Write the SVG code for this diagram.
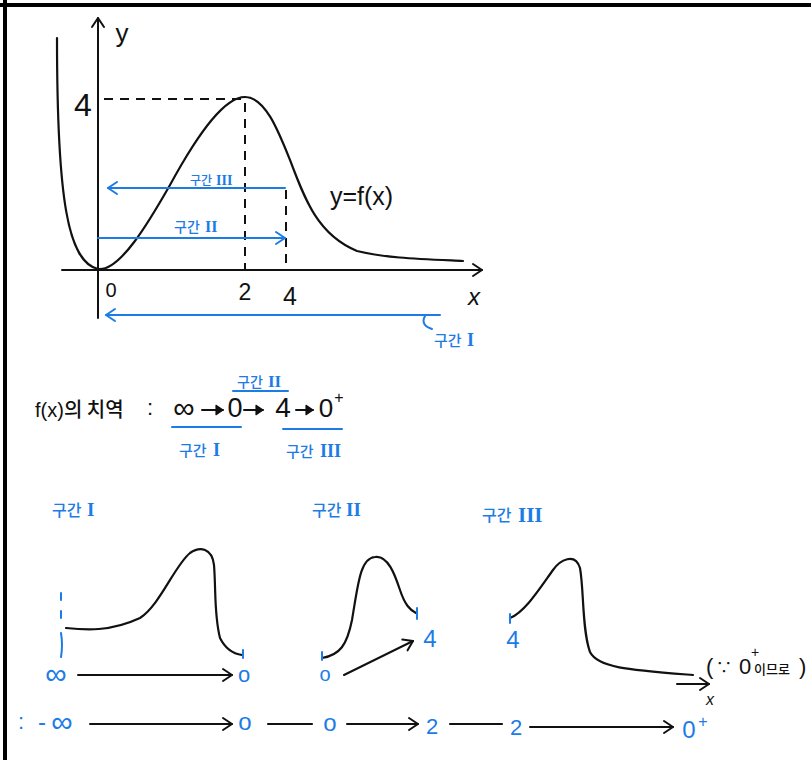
<svg xmlns="http://www.w3.org/2000/svg" width="811" height="760" viewBox="0 0 811 760">
<defs>
<marker id="hk" markerUnits="userSpaceOnUse" markerWidth="20" markerHeight="20" refX="0" refY="0" viewBox="-12 -10 14 20" orient="auto"><path d="M-9,-6 L0,0 L-9,6" fill="none" stroke="#111" stroke-width="2" stroke-linecap="round" stroke-linejoin="round"/></marker>
<marker id="hs" markerUnits="userSpaceOnUse" markerWidth="14" markerHeight="14" refX="0" refY="0" viewBox="-8 -6 10 12" orient="auto"><path d="M-6,-4 L0,0 L-6,4 Z" fill="#111" stroke="#111" stroke-width="1" stroke-linejoin="round"/></marker>
<marker id="hb" markerUnits="userSpaceOnUse" markerWidth="20" markerHeight="20" refX="0" refY="0" viewBox="-12 -10 14 20" orient="auto"><path d="M-9,-6 L0,0 L-9,6" fill="none" stroke="#1c7ce6" stroke-width="2" stroke-linecap="round" stroke-linejoin="round"/></marker>
<style>
.k{fill:none;stroke:#111;stroke-width:2.2;stroke-linecap:round;stroke-linejoin:round}
.ka{fill:none;stroke:#111;stroke-width:2;stroke-linecap:round;marker-end:url(#hk)}
.ks{fill:none;stroke:#111;stroke-width:2;stroke-linecap:round;marker-end:url(#hs)}
.d{fill:none;stroke:#111;stroke-width:2;stroke-dasharray:9 7}
.b{fill:none;stroke:#1c7ce6;stroke-width:2;stroke-linecap:round}
.ba{fill:none;stroke:#1c7ce6;stroke-width:2;stroke-linecap:round;marker-end:url(#hb)}
text{font-family:"Liberation Sans","Noto Sans CJK KR",sans-serif}
.kr{font-family:"Noto Sans CJK KR",sans-serif;font-weight:500}
.rn{font-family:"Liberation Serif",serif;font-weight:bold}
.t{fill:#111}
.tb{fill:#1c7ce6}
.m{text-anchor:middle}
</style>
</defs>
<g id="frame"><line x1="5" y1="0" x2="5" y2="760" stroke="#000" stroke-width="4"/><line x1="0" y1="5" x2="811" y2="5" stroke="#000" stroke-width="4"/></g>

<g id="graph">
<line class="ka" x1="98" y1="318" x2="98" y2="18"/>
<line class="ka" x1="62" y1="270" x2="482" y2="270"/>
<path class="k" d="M57,38 C57,200 68,262 98,269 C120,272 150,220 170,185 C200,130 225,97 245,97 C265,97 278,130 290,160 C305,200 318,235 357,251 C385,258 420,259 463,261"/>
<line class="d" x1="104" y1="99" x2="244" y2="99"/>
<line class="d" x1="245" y1="103" x2="245" y2="270"/>
<line class="d" x1="286" y1="190" x2="286" y2="270"/>
<text class="t m" x="122" y="42" font-size="26">y</text>
<text class="t m" x="83" y="116" font-size="32">4</text>
<text class="t m" x="111" y="297" font-size="20">0</text>
<text class="t m" x="245" y="300" font-size="23">2</text>
<text class="t m" x="290" y="305" font-size="25">4</text>
<text class="t m" x="474" y="305" font-size="24" font-style="italic">x</text>
<text class="t" x="330" y="205" font-size="25">y=f(x)</text>
</g>

<g id="intervals">
<line class="ba" x1="285" y1="188" x2="108" y2="188"/>
<text class="tb kr" x="190" y="185" font-size="12">구간</text>
<text class="tb rn" x="216" y="185" font-size="14">III</text>
<line class="ba" x1="98" y1="238" x2="285" y2="238"/>
<text class="tb kr" x="174" y="232" font-size="14">구간</text>
<text class="tb rn" x="205" y="232" font-size="16">II</text>
<line class="ba" x1="440" y1="315" x2="106" y2="315"/>
<path class="b" d="M425,316 Q420,325 432,329"/>
<text class="tb kr" x="434" y="346" font-size="15">구간</text>
<text class="tb rn" x="467" y="346" font-size="18">I</text>
</g>

<g id="range">
<text class="t" x="35" y="417" font-size="20">f(x)<tspan class="kr">의 치역</tspan></text>
<text class="t m" x="150" y="415" font-size="22">:</text>
<text class="t m" x="184" y="418" font-size="30">∞</text>
<line class="ks" x1="202" y1="410" x2="223" y2="410"/>
<text class="t m" x="235" y="417" font-size="27">0</text>
<line class="ks" x1="244" y1="410" x2="263" y2="410"/>
<text class="t m" x="283" y="417" font-size="28">4</text>
<line class="ks" x1="296" y1="410" x2="313" y2="410"/>
<text class="t m" x="326" y="417" font-size="26">0</text>
<text class="t m" x="339" y="403" font-size="16">+</text>
<line class="b" x1="233" y1="391" x2="288" y2="391"/>
<text class="tb kr" x="237" y="387" font-size="14">구간</text>
<text class="tb rn" x="268" y="387" font-size="17">II</text>
<line class="b" x1="172" y1="427" x2="241" y2="427"/>
<text class="tb kr" x="179" y="456" font-size="15">구간</text>
<text class="tb rn" x="213" y="456" font-size="18">I</text>
<line class="b" x1="283" y1="429" x2="342" y2="429"/>
<text class="tb kr" x="286" y="457" font-size="15">구간</text>
<text class="tb rn" x="320" y="457" font-size="18">III</text>
</g>

<g id="sec1">
<text class="tb kr" x="52" y="516" font-size="16">구간</text>
<text class="tb rn" x="87" y="516" font-size="19">I</text>
<path class="b" d="M61,593 L61,600 M61,611 L61,618 M61,633 Q63,645 61,657"/>
<path class="k" d="M66,628 C85,630 110,632 140,618 C160,605 175,565 190,553 C200,546 212,548 214,565 C216,590 214,615 220,638 C226,650 235,654 242,655"/>
<line class="b" x1="243" y1="650" x2="243" y2="658"/>
<text class="tb m" x="56" y="684" font-size="30">∞</text>
<line class="ka" x1="78" y1="675" x2="232" y2="675"/>
<text class="tb m" x="244" y="682" font-size="22">o</text>
</g>

<g id="sec2">
<text class="tb kr" x="312" y="516" font-size="16">구간</text>
<text class="tb rn" x="346" y="516" font-size="19">II</text>
<path class="k" d="M322,658 C340,655 347,645 352,620 C358,585 360,558 375,557 C388,555 395,575 400,590 C405,605 410,610 416,613"/>
<line class="b" x1="322" y1="652" x2="322" y2="660"/>
<line class="b" x1="417" y1="608" x2="417" y2="619"/>
<text class="tb m" x="325" y="681" font-size="20">o</text>
<line class="ka" x1="344" y1="675" x2="413" y2="641"/>
<text class="tb m" x="430" y="647" font-size="24">4</text>
</g>

<g id="sec3">
<text class="tb kr" x="482" y="521" font-size="16">구간</text>
<text class="tb rn" x="518" y="522" font-size="21">III</text>
<path class="k" d="M510,618 C525,612 540,588 553,570 C560,560 575,552 580,568 C584,590 582,630 590,652 C598,668 630,670 693,675"/>
<line class="b" x1="510" y1="614" x2="510" y2="623"/>
<text class="tb m" x="513" y="648" font-size="24">4</text>
<text class="t" x="706" y="674" font-size="22">(</text>
<text class="t" x="716" y="673" font-size="16">∵</text>
<text class="t" x="739" y="674" font-size="22">0</text>
<text class="t" x="751" y="657" font-size="14">+</text>
<text class="t kr" x="754" y="674" font-size="13">이므로</text>
<text class="t" x="799" y="674" font-size="22">)</text>
<line class="ka" x1="677" y1="684" x2="709" y2="684"/>
<text class="t m" x="710" y="705" font-size="16" font-style="italic">x</text>
</g>

<g id="xrow">
<text class="tb m" x="21" y="729" font-size="22">:</text>
<text class="tb m" x="42" y="730" font-size="24">-</text>
<text class="tb m" x="62" y="732" font-size="30">∞</text>
<line class="ka" x1="90" y1="724" x2="232" y2="724"/>
<text class="tb m" x="245" y="730" font-size="24">o</text>
<line class="k" x1="268" y1="724" x2="312" y2="724"/>
<text class="tb m" x="330" y="731" font-size="24">o</text>
<line class="ka" x1="347" y1="724" x2="418" y2="724"/>
<text class="tb m" x="432" y="734" font-size="22">2</text>
<line class="k" x1="450" y1="724" x2="502" y2="724"/>
<text class="tb m" x="516" y="735" font-size="22">2</text>
<line class="ka" x1="530" y1="727" x2="673" y2="727"/>
<text class="tb m" x="689" y="738" font-size="24">0</text>
<text class="tb m" x="703" y="727" font-size="16">+</text>
</g>
</svg>
